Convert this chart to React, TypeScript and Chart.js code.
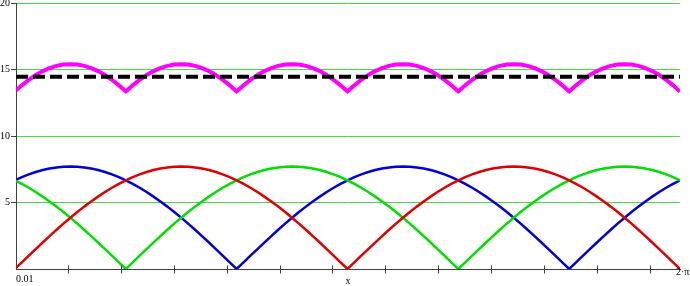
import React, { useEffect, useRef } from 'react';
import { Chart, registerables } from 'chart.js';

Chart.register(...registerables);

// x samples (radians), from 0.01 to 2π
const xValues = [
  0.01, 0.065, 0.131, 0.196, 0.262, 0.327, 0.393, 0.458, 0.524, 0.589, 0.654, 0.72, 0.785,
  0.851, 0.916, 0.982, 1.047, 1.113, 1.178, 1.244, 1.309, 1.374, 1.44, 1.505, 1.571,
  1.636, 1.702, 1.767, 1.833, 1.898, 1.963, 2.029, 2.094, 2.16, 2.225, 2.291, 2.356,
  2.422, 2.487, 2.553, 2.618, 2.683, 2.749, 2.814, 2.88, 2.945, 3.011, 3.076, 3.142,
  3.207, 3.272, 3.338, 3.403, 3.469, 3.534, 3.6, 3.665, 3.731, 3.796, 3.862, 3.927,
  3.992, 4.058, 4.123, 4.189, 4.254, 4.32, 4.385, 4.451, 4.516, 4.581, 4.647, 4.712,
  4.778, 4.843, 4.909, 4.974, 5.04, 5.105, 5.171, 5.236, 5.301, 5.367, 5.432, 5.498,
  5.563, 5.629, 5.694, 5.76, 5.825, 5.89, 5.956, 6.021, 6.087, 6.152, 6.218, 6.283,
];

const redValues = [
  0.08,
  0.5, 1.0, 1.5, 1.99, 2.47, 2.95, 3.41, 3.85, 4.28, 4.69, 5.08, 5.44, 5.79, 6.11, 6.4, 6.67,
  6.91, 7.11, 7.29, 7.44, 7.55, 7.63, 7.68, 7.7, 7.68, 7.63, 7.55, 7.44, 7.29, 7.11, 6.91, 6.67,
  6.4, 6.11, 5.79, 5.44, 5.08, 4.69, 4.28, 3.85, 3.41, 2.95, 2.47, 1.99, 1.5, 1.0, 0.5,
  0,
  0.5, 1.0, 1.5, 1.99, 2.47, 2.95, 3.41, 3.85, 4.28, 4.69, 5.08, 5.44, 5.79, 6.11, 6.4, 6.67,
  6.91, 7.11, 7.29, 7.44, 7.55, 7.63, 7.68, 7.7, 7.68, 7.63, 7.55, 7.44, 7.29, 7.11, 6.91, 6.67,
  6.4, 6.11, 5.79, 5.44, 5.08, 4.69, 4.28, 3.85, 3.41, 2.95, 2.47, 1.99, 1.5, 1.0, 0.5,
  0,
];

const greenValues = [
  6.63,
  6.4, 6.11, 5.79, 5.44, 5.08, 4.69, 4.28, 3.85, 3.41, 2.95, 2.47, 1.99, 1.5, 1.0, 0.5,
  0,
  0.5, 1.0, 1.5, 1.99, 2.47, 2.95, 3.41, 3.85, 4.28, 4.69, 5.08, 5.44, 5.79, 6.11, 6.4, 6.67,
  6.91, 7.11, 7.29, 7.44, 7.55, 7.63, 7.68, 7.7, 7.68, 7.63, 7.55, 7.44, 7.29, 7.11, 6.91, 6.67,
  6.4, 6.11, 5.79, 5.44, 5.08, 4.69, 4.28, 3.85, 3.41, 2.95, 2.47, 1.99, 1.5, 1.0, 0.5,
  0,
  0.5, 1.0, 1.5, 1.99, 2.47, 2.95, 3.41, 3.85, 4.28, 4.69, 5.08, 5.44, 5.79, 6.11, 6.4, 6.67,
  6.91, 7.11, 7.29, 7.44, 7.55, 7.63, 7.68, 7.7, 7.68, 7.63, 7.55, 7.44, 7.29, 7.11, 6.91, 6.67,
];

const blueValues = [
  6.71,
  6.91, 7.11, 7.29, 7.44, 7.55, 7.63, 7.68, 7.7, 7.68, 7.63, 7.55, 7.44, 7.29, 7.11, 6.91, 6.67,
  6.4, 6.11, 5.79, 5.44, 5.08, 4.69, 4.28, 3.85, 3.41, 2.95, 2.47, 1.99, 1.5, 1.0, 0.5,
  0,
  0.5, 1.0, 1.5, 1.99, 2.47, 2.95, 3.41, 3.85, 4.28, 4.69, 5.08, 5.44, 5.79, 6.11, 6.4, 6.67,
  6.91, 7.11, 7.29, 7.44, 7.55, 7.63, 7.68, 7.7, 7.68, 7.63, 7.55, 7.44, 7.29, 7.11, 6.91, 6.67,
  6.4, 6.11, 5.79, 5.44, 5.08, 4.69, 4.28, 3.85, 3.41, 2.95, 2.47, 1.99, 1.5, 1.0, 0.5,
  0,
  0.5, 1.0, 1.5, 1.99, 2.47, 2.95, 3.41, 3.85, 4.28, 4.69, 5.08, 5.44, 5.79, 6.11, 6.4, 6.67,
];

const sumValues = [
  13.42, 13.81, 14.23, 14.58, 14.88, 15.1, 15.27, 15.37, 15.4, 15.37, 15.27, 15.1, 14.88, 14.58, 14.23, 13.81,
  13.34, 13.81, 14.23, 14.58, 14.88, 15.1, 15.27, 15.37, 15.4, 15.37, 15.27, 15.1, 14.88, 14.58, 14.23, 13.81,
  13.34, 13.81, 14.23, 14.58, 14.88, 15.1, 15.27, 15.37, 15.4, 15.37, 15.27, 15.1, 14.88, 14.58, 14.23, 13.81,
  13.34, 13.81, 14.23, 14.58, 14.88, 15.1, 15.27, 15.37, 15.4, 15.37, 15.27, 15.1, 14.88, 14.58, 14.23, 13.81,
  13.34, 13.81, 14.23, 14.58, 14.88, 15.1, 15.27, 15.37, 15.4, 15.37, 15.27, 15.1, 14.88, 14.58, 14.23, 13.81,
  13.34, 13.81, 14.23, 14.58, 14.88, 15.1, 15.27, 15.37, 15.4, 15.37, 15.27, 15.1, 14.88, 14.58, 14.23, 13.81,
  13.34,
];

const meanX = [0.01, 6.283];
const meanY = [14.45, 14.45];

const xMin = 0.01;
const xMax = 6.283185;
const xTickValues = [0.5, 1, 1.5, 2, 2.5, 3, 3.5, 4, 4.5, 5, 5.5, 6];
const xFirstLabel = '0.01';
const xLastLabel = '2·π';
const xTitle = 'x';
const yMin = 0;
const yMax = 20;
const yStep = 5;

const FONT = "'Liberation Serif', 'Times New Roman', serif";
const AXIS = '#404040';
const GRID = '#44dd44';

const pts = (xs: number[], ys: number[]) => xs.map((x, i) => ({ x, y: ys[i] }));

const crossTicks = {
  id: 'crossTicks',
  afterDraw(chart: any) {
    const xs = chart.scales.x;
    const ys = chart.scales.y;
    const y0 = Math.round(ys.getPixelForValue(0)) + 0.5;
    const ctx = chart.ctx;
    ctx.save();
    ctx.strokeStyle = AXIS;
    ctx.lineWidth = 1;
    ctx.beginPath();
    xTickValues.forEach((v) => {
      const px = Math.round(xs.getPixelForValue(v)) + 0.5;
      ctx.moveTo(px, y0 - 4);
      ctx.lineTo(px, y0 + 4);
    });
    ctx.stroke();
    // label at the end of the x axis
    ctx.fillStyle = '#000';
    ctx.font = `10px ${FONT}`;
    ctx.textAlign = 'left';
    ctx.textBaseline = 'middle';
    ctx.fillText(xLastLabel, xs.getPixelForValue(xMax) - 4, y0 + 3);
    ctx.restore();
  },
};

export default function App() {
  const ref = useRef<HTMLCanvasElement | null>(null);

  useEffect(() => {
    if (!ref.current) return;
    const chart = new Chart(ref.current, {
      type: 'line',
      data: {
        datasets: [
          {
            data: pts(meanX, meanY),
            borderColor: '#000000',
            borderWidth: 4,
            borderDash: [12, 5],
            pointRadius: 0,
          },
          {
            data: pts(xValues, sumValues),
            borderColor: '#ff00ff',
            borderWidth: 4,
            pointRadius: 0,
            borderJoinStyle: 'round',
          },
          {
            data: pts(xValues, redValues),
            borderColor: '#e00000',
            borderWidth: 2.5,
            pointRadius: 0,
            borderJoinStyle: 'round',
          },
          {
            data: pts(xValues, greenValues),
            borderColor: '#00e000',
            borderWidth: 2.5,
            pointRadius: 0,
            borderJoinStyle: 'round',
          },
          {
            data: pts(xValues, blueValues),
            borderColor: '#0000dd',
            borderWidth: 2.5,
            pointRadius: 0,
            borderJoinStyle: 'round',
          },
        ],
      },
      options: {
        responsive: false,
        animation: false,
        events: [],
        layout: { padding: { top: 3, right: 10, left: 0, bottom: 0 } },
        plugins: { legend: { display: false }, tooltip: { enabled: false } },
        scales: {
          x: {
            type: 'linear',
            min: xMin,
            max: xMax,
            afterBuildTicks: (scale: any) => {
              scale.ticks = [xMin, ...xTickValues, xMax].map((v) => ({ value: v }));
            },
            afterFit: (scale: any) => {
              scale.height = 17;
              scale.paddingLeft = 0;
              scale.paddingRight = 0;
            },
            grid: { display: false, drawTicks: false },
            border: { display: true, color: AXIS, width: 1 },
            ticks: {
              autoSkip: false,
              maxRotation: 0,
              align: 'start',
              padding: 4,
              color: '#000',
              font: { family: FONT, size: 10 },
              callback: (v: any) => (Math.abs(v - xMin) < 1e-9 ? xFirstLabel : ''),
            },
            title: {
              display: true,
              text: xTitle,
              color: '#000',
              font: { family: FONT, size: 10 },
              padding: { top: 0, bottom: -1 },
            },
          },
          y: {
            min: yMin,
            max: yMax,
            afterFit: (scale: any) => {
              scale.width = 16;
              scale.paddingTop = 0;
              scale.paddingBottom = 0;
            },
            grid: {
              color: (c: any) => (c.tick && c.tick.value === 0 ? 'rgba(0,0,0,0)' : GRID),
              tickColor: (c: any) => (c.tick && c.tick.value === 0 ? 'rgba(0,0,0,0)' : AXIS),
              tickLength: 5,
              lineWidth: 1,
            },
            border: { display: true, color: AXIS, width: 1 },
            ticks: {
              stepSize: yStep,
              padding: 1,
              color: '#000',
              font: { family: FONT, size: 10 },
              callback: (v: any) => (v === 0 ? '' : String(v)),
            },
          },
        },
      },
      plugins: [crossTicks],
    });
    return () => chart.destroy();
  }, []);

  return (
    <div style={{ position: 'absolute', left: 0, top: 0, width: 690, height: 286, background: '#fff' }}>
      <canvas ref={ref} width={690} height={286} style={{ display: 'block' }} />
    </div>
  );
}
